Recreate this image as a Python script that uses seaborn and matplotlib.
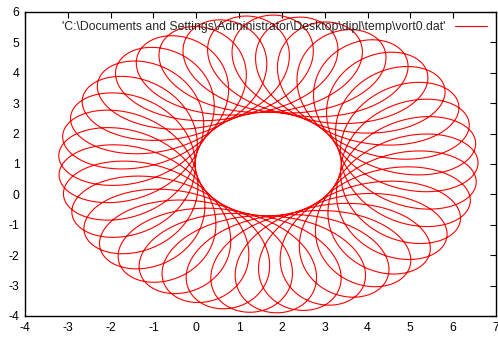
import numpy as np
import pandas as pd
import matplotlib
matplotlib.use("Agg")
import matplotlib.pyplot as plt
import seaborn as sns

# Vortex trajectory parameters:
# guiding-centre orbit plus a counter-rotating loop
center_x = 1.68
center_y = 1.0
orbit_radius = 3.3
loop_radius = 1.6
loop_ratio = -8.2          # loop turns per orbit (relative, counter-rotating)
revolutions = 5.0
end_orbit_deg = 183.5      # orbit angle at the last sample
end_loop_deg = 51.5        # loop angle at the last sample

x_ticks = [-4, -3, -2, -1, 0, 1, 2, 3, 4, 5, 6, 7]
y_ticks = [-4, -3, -2, -1, 0, 1, 2, 3, 4, 5, 6]
legend_label = "'C:\\Documents and Settings\\Administrator\\Desktop\\dipl\\temp\\vort0.dat'"

t = np.linspace(-2 * np.pi * revolutions, 0, 12000)
theta = np.deg2rad(end_orbit_deg) + t
psi = np.deg2rad(end_loop_deg) + (1 + loop_ratio) * t
px = center_x + orbit_radius * np.cos(theta) + loop_radius * np.cos(psi)
py = center_y + orbit_radius * np.sin(theta) + loop_radius * np.sin(psi)
df = pd.DataFrame({"x": px, "y": py})

sns.set_style("white")
plt.rcParams["font.family"] = ["Liberation Sans", "DejaVu Sans"]
plt.rcParams["axes.unicode_minus"] = False

fig = plt.figure(figsize=(4.98, 3.40), dpi=100)
ax = fig.add_axes([25 / 498, 24 / 340, 471 / 498, 304 / 340])
sns.lineplot(data=df, x="x", y="y", sort=False, estimator=None, color="#ff0000",
             linewidth=0.8, ax=ax, label=legend_label)

ax.set_xlim(-4, 7)
ax.set_ylim(-4, 6)
ax.set_xticks(x_ticks)
ax.set_yticks(y_ticks)
ax.set_xlabel("")
ax.set_ylabel("")
ax.tick_params(direction="in", top=True, right=True, length=4, width=0.8,
               labelsize=8.7, colors="black", pad=4)
for s in ax.spines.values():
    s.set_color("black")
    s.set_linewidth(1.0)

leg = ax.legend(loc="upper right", frameon=False, fontsize=8.8, handlelength=2.6,
                borderaxespad=0.55, handletextpad=0.8, markerfirst=False,
                borderpad=0.2)

fig.savefig("out.png", dpi=100)
